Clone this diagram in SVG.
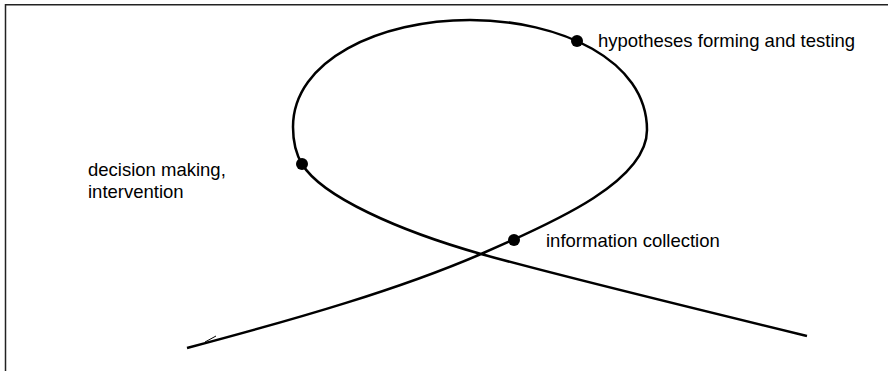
<svg xmlns="http://www.w3.org/2000/svg" width="888" height="371" viewBox="0 0 888 371">
<style>
.frame{fill:none;stroke:#222;stroke-width:1.5}
.curve{fill:none;stroke:#000;stroke-width:2.5;stroke-linecap:butt}
.dot{fill:#000}
.lbl{font-family:"Liberation Sans",Arial,sans-serif;font-size:18.5px;fill:#000}
</style>
<rect width="888" height="371" fill="#fff"/>
<path class="frame" d="M5.5,371 L5.5,4.75 L888,4.75"/>
<g id="connectors">
<path class="curve" d="M807,336 C700,310 560,276 481,254 C400,231 322,197 302,164 C296,154 293,140 293,127 C293,60 380,20 470,20 C560,20 647,60 647,130 C647,180 560,220 481,254 C400,289 300,318 187,348"/>
<path d="M205,342 L216,336" fill="none" stroke="#000" stroke-width="1"/>
</g>
<g id="hypotheses">
<circle class="dot" cx="577" cy="41" r="6"/>
<text class="lbl" x="598" y="47">hypotheses forming and testing</text>
</g>
<g id="decision">
<circle class="dot" cx="302" cy="164" r="6"/>
<text class="lbl" x="88" y="176">decision making,</text>
<text class="lbl" x="88" y="198">intervention</text>
</g>
<g id="information">
<circle class="dot" cx="514" cy="240" r="6"/>
<text class="lbl" x="546" y="247">information collection</text>
</g>
</svg>
